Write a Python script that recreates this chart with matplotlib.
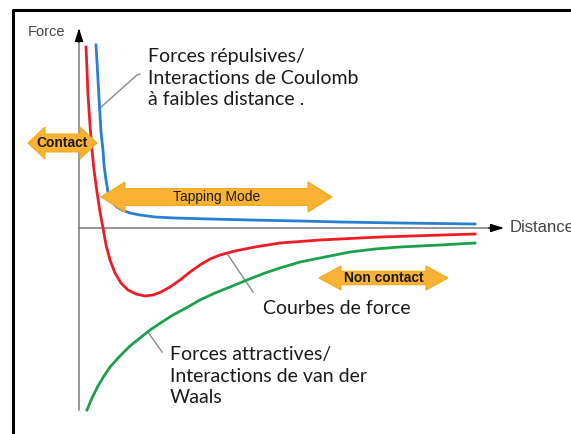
import matplotlib
matplotlib.use('Agg')
import matplotlib.pyplot as plt
from matplotlib.patches import Polygon

# Curves, in plot units (distance, force)
blue_x = [17, 18, 19, 20, 21, 22, 24, 25, 27, 29, 31, 34, 38, 43, 51, 61, 76, 96,
          131, 171, 221, 261, 321, 396]
blue_y = [183, 166, 148, 130, 113, 96, 78, 63, 48, 36, 30, 25, 21, 18, 15, 13, 11, 10,
          9, 8, 7, 6, 5, 4]

red_x = [7, 8, 9, 11, 13, 15, 18, 21, 24, 27, 31, 36, 42, 49, 57, 66, 74, 82, 91, 101,
         111, 121, 131, 141, 156, 176, 201, 241, 301, 396]
red_y = [181, 158, 133, 103, 78, 58, 36, 16, 0, -17, -32, -45, -55, -62, -66, -68, -67,
         -64, -59, -52, -44, -37, -31, -27, -23, -19, -15, -12, -9, -6]

green_x = [8, 13, 19, 25, 31, 41, 51, 61, 71, 83, 94, 107, 121, 136, 151, 168, 186, 201,
           221, 246, 271, 296, 321, 361, 396]
green_y = [-182, -170, -158, -148, -139, -128, -118, -110, -102, -94, -87, -80, -72, -65,
           -59, -52, -45, -40, -34, -29, -24, -21, -19, -17, -15]

# Double arrows: label, x start, x end, y, head half-height, head length
arrow_labels = ['Contact', 'Tapping Mode', 'Non contact']
arrow_x0 = [-51, 22, 240]
arrow_x1 = [18, 253, 369]
arrow_y = [85, 31, -50]
arrow_head = [16, 15, 12]
arrow_len = [17, 24, 22]
arrow_bold = [True, False, True]

GOLD = '#f9b233'


def double_arrow(ax, x0, x1, y, hh, sh, hl):
    pts = [(x0, y), (x0 + hl, y + hh), (x0 + hl, y + sh), (x1 - hl, y + sh),
           (x1 - hl, y + hh), (x1, y), (x1 - hl, y - hh), (x1 - hl, y - sh),
           (x0 + hl, y - sh), (x0 + hl, y - hh)]
    ax.add_patch(Polygon(pts, closed=True, fc=GOLD, ec='#f3a81c', lw=0.8, zorder=4))


fig = plt.figure(figsize=(5.71, 4.34), dpi=100)
ax = fig.add_axes([0, 0, 1, 1])
ax.set_xlim(-79, 492)
ax.set_ylim(-206, 228)
ax.axis('off')

# outer frame (left and top edges visible)
ax.plot([-66, -66, 492], [-206, 218, 218], color='black', lw=2.2, clip_on=False)

# axes: grey lines, black arrow heads
ax.plot([0, 0], [-182, 190], color='#7a7a7a', lw=1.1)
ax.plot([0, 414], [0, 0], color='#7a7a7a', lw=1.1)
head = dict(arrowstyle='-|>,head_length=0.8,head_width=0.25', color='black', lw=1,
            shrinkA=0, shrinkB=0)
ax.annotate('', xy=(0, 200), xytext=(0, 186), arrowprops=head)
ax.annotate('', xy=(425, 0), xytext=(410, 0), arrowprops=head)
ax.text(-51, 196, 'Force', fontsize=10.5, color='#444444', family='Liberation Sans',
        va='center', ha='left')
ax.text(431, 0, 'Distance', fontsize=12, color='#444444', family='Liberation Sans',
        va='center', ha='left')

ax.plot(blue_x, blue_y, color='#2a7fd4', lw=2, zorder=3)
ax.plot(red_x, red_y, color='#ee1c25', lw=2, zorder=3)
ax.plot(green_x, green_y, color='#1aa14a', lw=2, zorder=3)

for lab, x0, x1, y, hh, hl, bold in zip(arrow_labels, arrow_x0, arrow_x1, arrow_y,
                                         arrow_head, arrow_len, arrow_bold):
    double_arrow(ax, x0, x1, y, hh, hh * 0.56, hl)
    ax.text((x0 + x1) / 2, y, lab, fontsize=10, family='Liberation Sans',
            fontweight='bold' if bold else 'normal', color='#1a1a1a',
            ha='center', va='center', zorder=5)

# leader lines and annotations
ax.plot([21, 58, 61], [120, 153, 154], color='#8a8a8a', lw=1)
ax.plot([149, 174], [-27, -64], color='#8a8a8a', lw=1)
ax.plot([69, 83], [-104, -124], color='#8a8a8a', lw=1)

txt = dict(fontsize=14, family='Lato', color='#1a1a1a', linespacing=1.3)
ax.text(69, 150, 'Forces répulsives/\nInteractions de Coulomb\nà faibles distance .',
        va='center', ha='left', **txt)
ax.text(184, -81, 'Courbes de force', va='center', ha='left', **txt)
ax.text(91, -148, 'Forces attractives/\nInteractions de van der\nWaals',
        va='center', ha='left', **txt)

fig.savefig('out.png', dpi=100)
